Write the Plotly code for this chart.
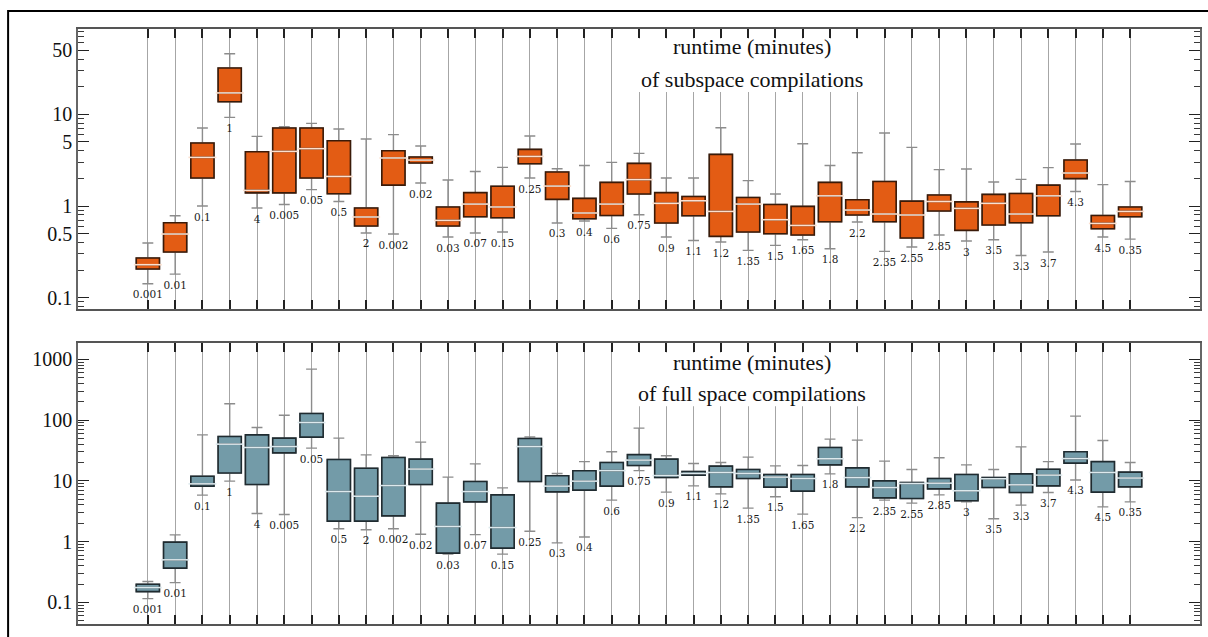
import plotly.graph_objects as go

labels = ["0.001", "0.01", "0.1", "1", "4", "0.005", "0.05", "0.5", "2", "0.002",
          "0.02", "0.03", "0.07", "0.15", "0.25", "0.3", "0.4", "0.6", "0.75", "0.9",
          "1.1", "1.2", "1.35", "1.5", "1.65", "1.8", "2.2", "2.35", "2.55", "2.85",
          "3", "3.5", "3.3", "3.7", "4.3", "4.5", "0.35"]

# runtime (minutes) of subspace compilations
sub_low = [0.142, 0.181, 1.0, 9.25, 0.95, 1.04, 1.51, 1.12, 0.508, 0.495,
           1.78, 0.459, 0.508, 0.520, 2.02, 0.653, 0.686, 0.570, 0.804, 0.459,
           0.421, 0.405, 0.328, 0.372, 0.429, 0.342, 0.669, 0.320, 0.357, 0.483,
           0.415, 0.429, 0.289, 0.315, 1.44, 0.459, 0.436]
sub_q1 = [0.206, 0.315, 2.02, 13.7, 1.39, 1.39, 2.02, 1.36, 0.605, 1.69,
          2.94, 0.605, 0.764, 0.745, 2.89, 1.18, 0.727, 0.789, 1.35, 0.653,
          0.784, 0.466, 0.520, 0.499, 0.483, 0.674, 0.798, 0.674, 0.448, 0.882,
          0.542, 0.621, 0.658, 0.784, 1.99, 0.565, 0.764]
sub_med = [0.229, 0.495, 3.39, 17.1, 1.48, 3.94, 4.22, 2.10, 0.759, 3.34,
           3.17, 0.697, 1.05, 0.976, 3.47, 1.65, 0.839, 1.05, 1.94, 1.07,
           1.14, 0.873, 1.05, 0.709, 0.614, 1.29, 0.904, 0.818, 0.798, 1.12,
           0.942, 1.07, 0.818, 1.29, 2.29, 0.646, 0.873]
sub_q3 = [0.271, 0.657, 4.86, 32.0, 3.91, 7.09, 7.09, 5.15, 0.95, 4.01,
          3.42, 0.976, 1.40, 1.64, 4.14, 2.35, 1.21, 1.81, 2.92, 1.40,
          1.27, 3.66, 1.24, 1.04, 0.99, 1.81, 1.17, 1.85, 1.13, 1.32,
          1.11, 1.34, 1.37, 1.69, 3.17, 0.789, 0.976]
sub_high = [0.395, 0.784, 7.1, 45.8, 5.74, 7.32, 7.96, 6.92, 5.38, 6.0,
            4.51, 1.92, 2.38, 2.64, 5.80, 2.55, 2.77, 2.99, 3.75, 2.02,
            2.02, 7.14, 1.89, 1.35, 4.78, 2.77, 3.81, 6.25, 4.36, 2.49,
            2.53, 1.83, 1.95, 2.62, 4.74, 1.71, 1.85]

# runtime (minutes) of full space compilations
full_low = [0.115, 0.211, 5.8, 9.87, 2.89, 2.78, 34.5, 1.62, 1.56, 1.62,
            1.32, 0.621, 1.30, 0.621, 1.48, 0.952, 1.19, 4.8, 14.7, 6.5,
            8.26, 6.1, 3.55, 5.45, 2.83, 13.0, 2.48, 4.8, 4.29, 5.87,
            4.50, 2.37, 3.97, 6.41, 10.3, 3.72, 4.50]
full_q1 = [0.150, 0.365, 8.17, 13.4, 8.67, 28.8, 52.3, 2.17, 2.17, 2.65,
           8.67, 0.644, 4.50, 0.778, 9.72, 6.58, 7.01, 8.17, 17.8, 11.3,
           12.4, 7.95, 10.9, 7.86, 6.76, 18.3, 7.95, 5.24, 5.1, 7.37,
           4.68, 7.74, 6.41, 8.26, 19.5, 6.5, 7.95]
full_med = [0.175, 0.500, 8.9, 40.1, 35.3, 36.6, 91.0, 6.65, 5.58, 8.35,
            15.6, 1.77, 6.65, 1.70, 36.6, 8.17, 9.87, 14.7, 21.9, 12.2,
            13.2, 13.7, 13.2, 11.5, 10.9, 23.0, 11.3, 7.74, 9.02, 9.14,
            6.84, 10.8, 8.57, 12.4, 23.2, 13.7, 11.1]
full_q3 = [0.198, 0.977, 11.9, 53.5, 57.0, 50.4, 128.0, 22.4, 16.1, 24.1,
           22.7, 4.29, 9.72, 5.87, 49.6, 12.1, 14.6, 20.0, 27.0, 22.7,
           14.2, 17.4, 15.3, 12.7, 12.7, 35.3, 16.3, 9.98, 9.35, 10.9,
           12.7, 11.3, 13.0, 15.5, 30.0, 20.7, 13.9]
full_high = [0.220, 1.29, 57.0, 185.0, 75.3, 120.0, 689.0, 50.4, 26.7, 25.8,
             43.3, 11.5, 19.0, 7.65, 52.9, 13.2, 20.7, 30.0, 73.6, 25.8,
             19.2, 20.0, 24.5, 17.6, 17.8, 48.5, 46.7, 21.1, 15.3, 23.9,
             18.3, 15.3, 36.2, 20.7, 116.0, 46.0, 20.0]

top_ticks = [0.1, 0.5, 1, 5, 10, 50]
top_ticktext = ["0.1", "0.5", "1", "5", "10", "50"]
bot_ticks = [0.1, 1, 10, 100, 1000]
bot_ticktext = ["0.1", "1", "10", "100", "1000"]

SERIF = "Liberation Serif, Times New Roman, serif"
xpos = list(range(len(labels)))

TOP_RANGE = [-1.123, 1.930]
BOT_RANGE = [-1.357, 3.268]

fig = go.Figure()


def add_panel(xa, ya, low, q1, med, q3, high, fill, edge, medc):
    # whiskers + caps (grey)
    fig.add_trace(go.Box(x=xpos, q1=q1, median=med, q3=q3, lowerfence=low, upperfence=high,
                         xaxis=xa, yaxis=ya, width=0.85, whiskerwidth=0.47,
                         fillcolor="rgba(0,0,0,0)", line=dict(color="#8c8c8c", width=1.4),
                         boxpoints=False, showlegend=False, hoverinfo="skip"))
    # box body
    fig.add_trace(go.Box(x=xpos, q1=q1, median=med, q3=q3, lowerfence=q1, upperfence=q3,
                         xaxis=xa, yaxis=ya, width=0.85, whiskerwidth=0,
                         fillcolor=fill, line=dict(color=edge, width=1.6),
                         boxpoints=False, showlegend=False, hoverinfo="skip"))
    # median line
    fig.add_trace(go.Scatter(x=xpos, y=med, mode="markers", xaxis=xa, yaxis=ya,
                             marker=dict(symbol="line-ew", size=20,
                                         line=dict(color=medc, width=1.6)),
                             showlegend=False, hoverinfo="skip"))
    # labels below lower whisker
    fig.add_trace(go.Scatter(x=xpos, y=low, mode="markers+text", text=labels, xaxis=xa, yaxis=ya,
                             textposition="bottom center",
                             marker=dict(size=9, opacity=0),
                             textfont=dict(family="DejaVu Serif", size=10.5, color="#1a1a1a"),
                             showlegend=False, hoverinfo="skip"))


add_panel("x", "y", sub_low, sub_q1, sub_med, sub_q3, sub_high,
          "#E35C14", "#3a1a08", "#FBE0CF")
add_panel("x2", "y2", full_low, full_q1, full_med, full_q3, full_high,
          "#739BA8", "#1f2b30", "#DDE9ED")

xcommon = dict(range=[-2.56, 38.56], tickmode="array", tickvals=xpos, showticklabels=False,
               ticks="inside", ticklen=9, tickwidth=1.5, tickcolor="#222222",
               showgrid=True, gridcolor="#a6a6a6", gridwidth=1,
               showline=True, linecolor="#555555", linewidth=1.5, mirror="ticks",
               zeroline=False)
ycommon = dict(type="log", tickmode="array", ticks="inside", ticklen=11, tickwidth=1.4,
               tickcolor="#222222", showgrid=False, showline=True, linecolor="#666666",
               linewidth=1.5, mirror="ticks", zeroline=False,
               tickfont=dict(family=SERIF, size=20, color="#111111"),
               minor=dict(ticks="inside", ticklen=6, tickwidth=1.3, tickcolor="#3a3a3a",
                          dtick="D1", showgrid=False))

fig.update_layout(
    width=1208, height=637,
    margin=dict(l=78, r=6, t=29, b=13),
    paper_bgcolor="white", plot_bgcolor="white",
    boxmode="overlay",
    showlegend=False,
    xaxis=dict(domain=[0, 1], anchor="y", **xcommon),
    xaxis2=dict(domain=[0, 1], anchor="y2", **xcommon),
    yaxis=dict(domain=[0.5294, 1], anchor="x", range=TOP_RANGE,
               tickvals=top_ticks, ticktext=top_ticktext, **ycommon),
    yaxis2=dict(domain=[0, 0.4723], anchor="x2", range=BOT_RANGE,
                tickvals=bot_ticks, ticktext=bot_ticktext, **ycommon),
)

shapes = []
for yref in ["y domain", "y2 domain"]:
    shapes.append(dict(type="rect", xref="paper", yref=yref, x0=0.488, x1=0.707,
                       y0=0.775, y1=0.966, fillcolor="white", line=dict(width=0),
                       layer="above"))
shapes.append(dict(type="rect", xref="paper", yref="paper", x0=-0.0623, x1=1.05,
                   y0=-0.1, y1=1.0303, fillcolor="rgba(0,0,0,0)",
                   line=dict(color="black", width=2), layer="above"))
fig.update_layout(shapes=shapes)

ann_font = dict(family=SERIF, size=22, color="#111111")
anns = [
    dict(text="runtime (minutes)", xref="paper", yref="y domain", x=0.6005, y=0.939),
    dict(text="of subspace compilations", xref="paper", yref="y domain", x=0.6005, y=0.821),
    dict(text="runtime (minutes)", xref="paper", yref="y2 domain", x=0.6005, y=0.932),
    dict(text="of full space compilations", xref="paper", yref="y2 domain", x=0.6005, y=0.822),
]
for a in anns:
    a.update(showarrow=False, xanchor="center", yanchor="middle", font=ann_font)
fig.update_layout(annotations=anns)

fig.write_html("out.html", config={"displayModeBar": False},
               post_script="document.body.style.margin='0';")
